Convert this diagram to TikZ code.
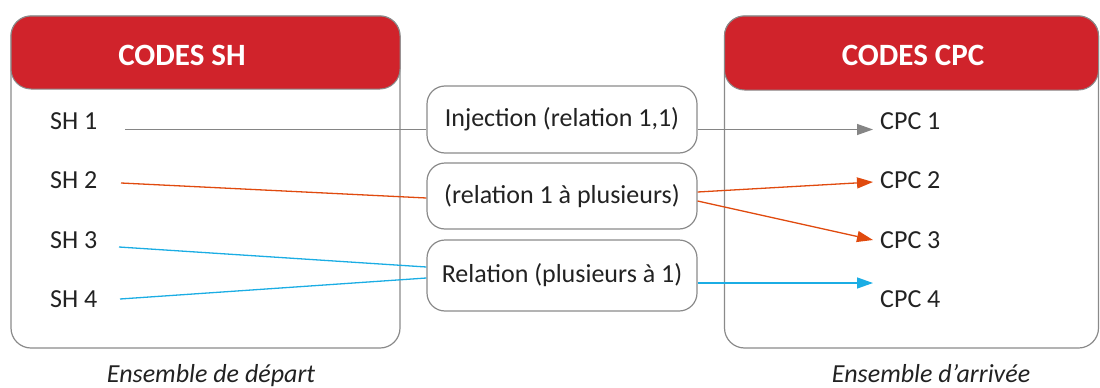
\documentclass[tikz,border=0pt]{standalone}
\usepackage{fontspec}
\setmainfont{Carlito}
\usetikzlibrary{arrows.meta,calc}
\definecolor{hdrred}{HTML}{D0232B}
\definecolor{boxgray}{HTML}{8A8A8A}
\definecolor{linegray}{HTML}{858585}
\definecolor{orangeline}{HTML}{E04A0E}
\definecolor{blueline}{HTML}{1BADE4}
\definecolor{txt}{HTML}{222222}
\tikzset{
  bigbox/.style={draw=boxgray, line width=1.2pt, rounded corners=20pt, inner sep=0pt},
  header/.style={draw=boxgray, fill=hdrred, line width=1pt, rounded corners=20pt, inner sep=0pt},
  title/.style={text=white, font=\fontsize{31}{36}\selectfont\bfseries, inner sep=0pt},
  midbox/.style={draw=boxgray, line width=1.2pt, rounded corners=18pt, minimum width=270pt, inner sep=0pt, text=txt, font=\fontsize{26}{30}\selectfont},
  item/.style={anchor=base west, inner sep=0pt, text=txt, font=\fontsize{26}{30}\selectfont},
  caption/.style={anchor=base, inner sep=0pt, text=txt, font=\fontsize{26}{30}\selectfont\itshape},
  conn/.style={line width=1.3pt},
  tip/.style={-{Triangle[length=16pt,width=11pt]}}
}
\begin{document}
\begin{tikzpicture}[x=1pt,y=-1pt]
\useasboundingbox (0,0) rectangle (1100,388);
% containers
\node[bigbox, minimum width=389pt, minimum height=332pt] (L) at (205.5,182) {};
\node[header, minimum width=389pt, minimum height=73pt] (LH) at (205.5,52.5) {};
\node[title] (LT) at (182,55) {CODES SH};
\node[bigbox, minimum width=374pt, minimum height=332pt] (R) at (911.5,182) {};
\node[header, minimum width=374pt, minimum height=74pt] (RH) at (911.5,53) {};
\node[title] (RT) at (913,55) {CODES CPC};
% items
\node[item] (sh1) at (50,129) {SH 1};
\node[item] (sh2) at (50,188.5) {SH 2};
\node[item] (sh3) at (50,248) {SH 3};
\node[item] (sh4) at (50,307) {SH 4};
\node[item] (cpc1) at (880,129) {CPC 1};
\node[item] (cpc2) at (880,188.5) {CPC 2};
\node[item] (cpc3) at (880,248) {CPC 3};
\node[item] (cpc4) at (880,307) {CPC 4};
% middle boxes
\node[midbox, minimum height=67pt] (b1) at (562,119.5) {Injection (relation 1,1)};
\node[midbox, minimum height=66pt] (b2) at (562,196) {(relation 1 à plusieurs)};
\node[midbox, minimum height=71pt] (b3) at (562,275.5) {Relation (plusieurs à 1)};
% captions
\node[caption] (cl) at (211,382) {Ensemble de départ};
\node[caption] (cr) at (931,382) {Ensemble d’arrivée};
% endpoints
\coordinate (s1) at (125,129.5);
\coordinate (s2) at (121,183);
\coordinate (s3) at (119,247);
\coordinate (s4) at (120,299);
\coordinate (t1) at (873,129.5);
\coordinate (t2) at (873,182);
\coordinate (t3) at (873,240);
\coordinate (t4) at (873,283);
% connectors
\draw[conn, linegray] (s1) -- (b1.west |- s1);
\draw[conn, linegray, tip] (b1.east |- s1) -- (t1);
\draw[conn, orangeline] (s2) -- ($(b2.west)+(0,2)$);
\draw[conn, orangeline, tip] ($(b2.east)+(0,-4)$) -- (t2);
\draw[conn, orangeline, tip] ($(b2.east)+(0,5)$) -- (t3);
\draw[conn, blueline] (s3) -- ($(b3.west)+(0,-8.5)$);
\draw[conn, blueline] (s4) -- ($(b3.west)+(0,2.5)$);
\draw[conn, blueline, tip] ($(b3.east)+(0,7.5)$) -- (t4);
\end{tikzpicture}
\end{document}
